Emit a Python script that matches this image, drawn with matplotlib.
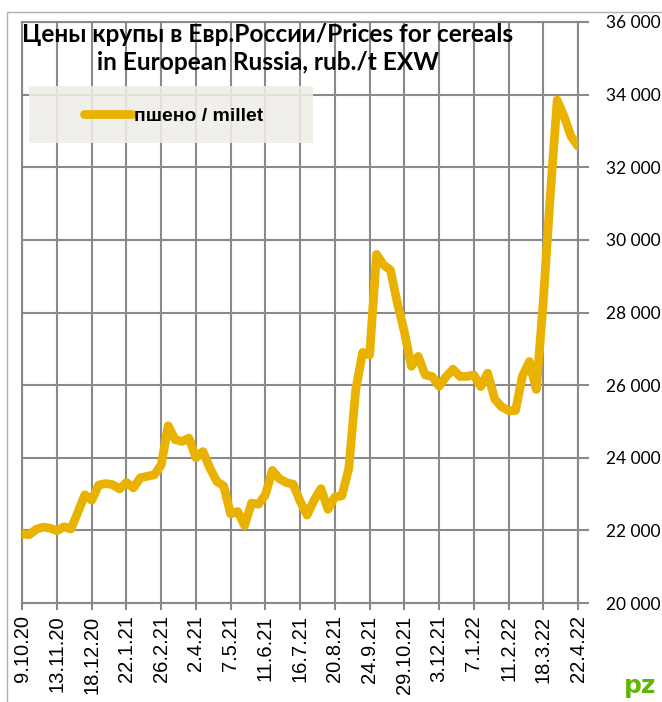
import matplotlib
matplotlib.use('Agg')
import matplotlib.pyplot as plt
from matplotlib.patches import Rectangle

# weekly prices, millet, rub./t EXW (9.10.20 .. 22.4.22)
millet = [21900, 21880, 22030, 22090, 22060, 21990, 22100, 22040, 22500, 22980,
          22830, 23250, 23290, 23260, 23140, 23320, 23170, 23450, 23490, 23530,
          23800, 24880, 24500, 24450, 24540, 24000, 24170, 23720, 23350, 23220,
          22450, 22520, 22130, 22750, 22720, 22980, 23650, 23420, 23320, 23270,
          22800, 22420, 22830, 23150, 22580, 22920, 22950, 23700, 25870, 26900,
          26830, 29600, 29310, 29170, 28260, 27470, 26520, 26790, 26280, 26240,
          25970, 26230, 26440, 26240, 26240, 26280, 25960, 26330, 25620, 25400,
          25300, 25300, 26250, 26650, 25880, 28300, 31200, 33850, 33400, 32850,
          32580]
date_labels = ['9.10.20', '13.11.20', '18.12.20', '22.1.21', '26.2.21', '2.4.21',
               '7.5.21', '11.6.21', '16.7.21', '20.8.21', '24.9.21', '29.10.21',
               '3.12.21', '7.1.22', '11.2.22', '18.3.22', '22.4.22']
y_ticks = [20000, 22000, 24000, 26000, 28000, 30000, 32000, 34000, 36000]

grid_col = '#8a8a8a'
line_col = '#E9B200'

fig = plt.figure(figsize=(6.62, 7.02), dpi=100)
ax = fig.add_axes([22.3/662, 1-603/702, (578-22.3)/662, (603-22)/702])

x = list(range(len(millet)))
ax.plot(x, millet, color=line_col, linewidth=6.3, solid_joinstyle='round',
        solid_capstyle='round', label='пшено / millet', zorder=5)

ax.set_xlim(0, len(millet) - 1)
ax.set_ylim(20000, 36000)
ax.set_xticks(range(0, len(millet), 5))
ax.set_xticklabels(date_labels, rotation=90, fontsize=14.5, family='Liberation Sans')
ax.set_yticks(y_ticks)
ax.set_yticklabels([f'{v:,}'.replace(',', ' ') for v in y_ticks], fontsize=12.5, family='Lato')
ax.yaxis.tick_right()
ax.tick_params(axis='y', length=8, width=1.5, color=grid_col, pad=12)
ax.tick_params(axis='x', length=5, width=1.5, color=grid_col, pad=4)
ax.grid(True, color=grid_col, linewidth=1.5)
ax.set_axisbelow(True)
for s in ax.spines.values():
    s.set_color(grid_col)
    s.set_linewidth(1.5)

# legend box
ax.add_patch(Rectangle((29/662, 1-143/702), 284/662, 57/702, transform=fig.transFigure,
                       facecolor='#F0EDE6', edgecolor='none', alpha=0.88, zorder=3))
leg = ax.legend(loc='center left', bbox_to_anchor=(66/662, 1-116/702),
                bbox_transform=fig.transFigure, frameon=False, handlelength=2.5,
                handletextpad=0.1, prop={'family': 'Liberation Sans', 'weight': 'bold', 'size': 14})
leg.set_zorder(6)

fig.text(268/662, 1-34/702, 'Цены крупы в Евр.России/Prices for cereals', ha='center', va='center',
         fontsize=17.6, fontweight='bold', family='Lato')
fig.text(268/662, 1-63/702, 'in European Russia, rub./t EXW', ha='center', va='center',
         fontsize=17.6, fontweight='bold', family='Lato')

# outer chart border
fig.add_artist(Rectangle((7/662, -0.1), 1.2, 1-12/702+0.1, transform=fig.transFigure,
                         facecolor='none', edgecolor='#b0b0b0', linewidth=1))

# logo
fig.text(624/662, 4/702, 'pz', ha='left', va='bottom', fontsize=18, fontweight='bold',
         color='#5DB800', family='DejaVu Sans')

fig.savefig('out.png', dpi=100)
